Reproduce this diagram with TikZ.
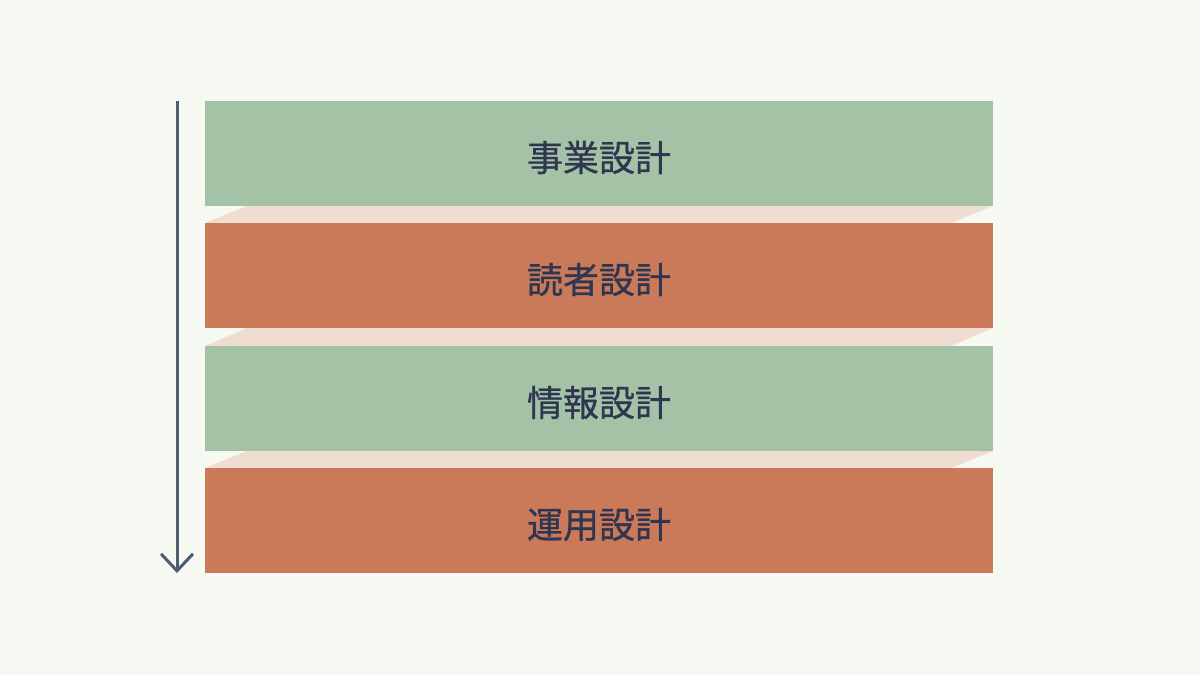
\documentclass[tikz,border=0pt]{standalone}
\usepackage{fontspec}
\newfontfamily\cjk[FakeBold=0.8]{Noto Sans CJK JP}
\usetikzlibrary{arrows.meta}
\definecolor{bg}{HTML}{F6F8F2}
\definecolor{sage}{HTML}{A3C2A6}
\definecolor{terra}{HTML}{CB7A59}
\definecolor{blush}{HTML}{F0DDD1}
\definecolor{ink}{HTML}{2F3650}
\definecolor{slate}{HTML}{4E5D70}
\tikzset{
  layer/.style={minimum width=788pt, minimum height=105pt, inner sep=0pt, outer sep=0pt},
  label/.style={text=ink, font=\cjk\fontsize{36pt}{40pt}\selectfont, inner sep=0pt},
  gapband/.style={fill=blush, draw=none},
  flowarrow/.style={draw=slate, line width=3pt, -{Straight Barb[length=17pt, width=32pt, line width=3pt]}}
}
\begin{document}
\begin{tikzpicture}[x=1pt,y=-1pt]
\fill[bg] (0,0) rectangle (1200,675);
\useasboundingbox (0,0) rectangle (1200,675);
% gap bands
\fill[gapband] (205,223) -- (247,206) -- (993,206) -- (951,223) -- cycle;
\fill[gapband] (205,346) -- (247,328) -- (993,328) -- (951,346) -- cycle;
\fill[gapband] (205,468) -- (247,451) -- (993,451) -- (951,468) -- cycle;
% layers
\node[layer, fill=sage, anchor=north west] (l1) at (205,101) {};
\node[layer, fill=terra, anchor=north west] (l2) at (205,223) {};
\node[layer, fill=sage, anchor=north west] (l3) at (205,346) {};
\node[layer, fill=terra, anchor=north west] (l4) at (205,468) {};
\node[label] (t1) at ([yshift=-4pt]l1.center) {事業設計};
\node[label] (t2) at ([yshift=-4pt]l2.center) {読者設計};
\node[label] (t3) at ([yshift=-4pt]l3.center) {情報設計};
\node[label] (t4) at ([yshift=-4pt]l4.center) {運用設計};
% arrow
\coordinate (atop) at (177,101);
\coordinate (abot) at (177,573);
\draw[flowarrow] (atop) -- (abot);
\end{tikzpicture}
\end{document}
